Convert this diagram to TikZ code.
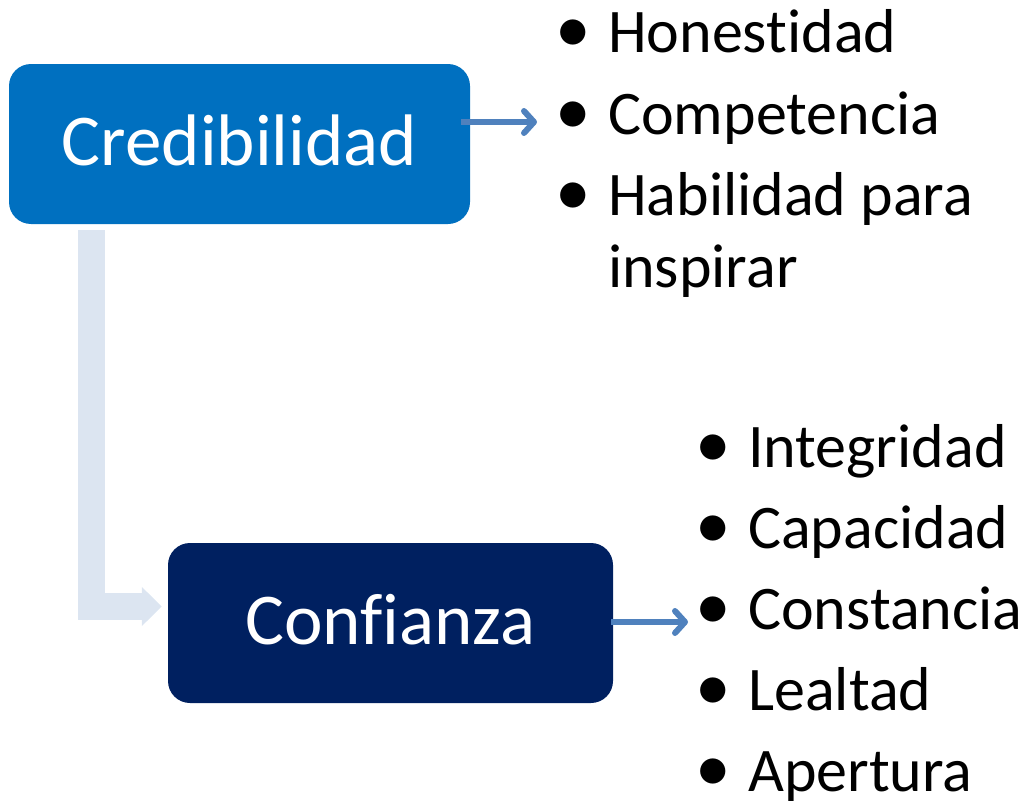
\documentclass[tikz,border=0pt]{standalone}
\usepackage{fontspec}
\setmainfont[RawFeature={-liga;-dlig;-clig}]{Carlito}
\usetikzlibrary{arrows.meta,calc}
\definecolor{credblue}{RGB}{0,112,192}
\definecolor{confblue}{RGB}{0,32,96}
\definecolor{linkblue}{RGB}{79,129,189}
\definecolor{bentblue}{RGB}{220,229,241}
\newcommand{\bul}{\llap{\makebox[70pt][c]{\scalebox{1.15}{•}}}}
\begin{document}
\begin{tikzpicture}[x=1pt,y=-1pt,
  box/.style={rounded corners=22pt, minimum width=#1, minimum height=160pt,
    inner sep=0pt, text height=42pt, text depth=0pt, text=white,
    font=\fontsize{73}{80}\selectfont},
  item/.style={anchor=base west, inner sep=0pt, font=\fontsize{62}{72}\selectfont},
  link/.style={draw=linkblue, line width=6pt,
    -{Straight Barb[length=10pt,width=22pt,round]}},
  bent/.style={draw=bentblue, line width=27pt, line join=miter,
    -{Triangle[length=20pt,width=38pt]}}]
\useasboundingbox (0,0) rectangle (1029,803);

\node[box=461pt, fill=credblue] (cred) at (239.5,144) {Credibilidad};
\node[box=445pt, fill=confblue] (conf) at (390.5,623) {Confianza};

\node[item] (l1) at (608,52) {\bul Honestidad};
\node[item] (l2) at (608,134) {\bul Competencia};
\node[item] (l3) at (608,215) {\bul Habilidad para};
\node[item] (l3b) at (608,287) {inspirar};

\node[item] (m1) at (748,467) {\bul Integridad};
\node[item] (m2) at (748,548) {\bul Capacidad};
\node[item] (m3) at (748,629) {\bul Constancia};
\node[item] (m4) at (748,710) {\bul Lealtad};
\node[item] (m5) at (748,791) {\bul Apertura};

\coordinate (h1) at (537,122);
\coordinate (h2) at (688,622);
\coordinate (bend) at ($(conf.west)+(-6,-16.5)$);

\draw[bent] ($(cred.south west)+(82.5,6)$) |- (bend);
\draw[link] ($(cred.east |- h1)+(-9,0)$) -- (h1);
\draw[link] ($(conf.east |- h2)+(-2,0)$) -- (h2);
\end{tikzpicture}
\end{document}
